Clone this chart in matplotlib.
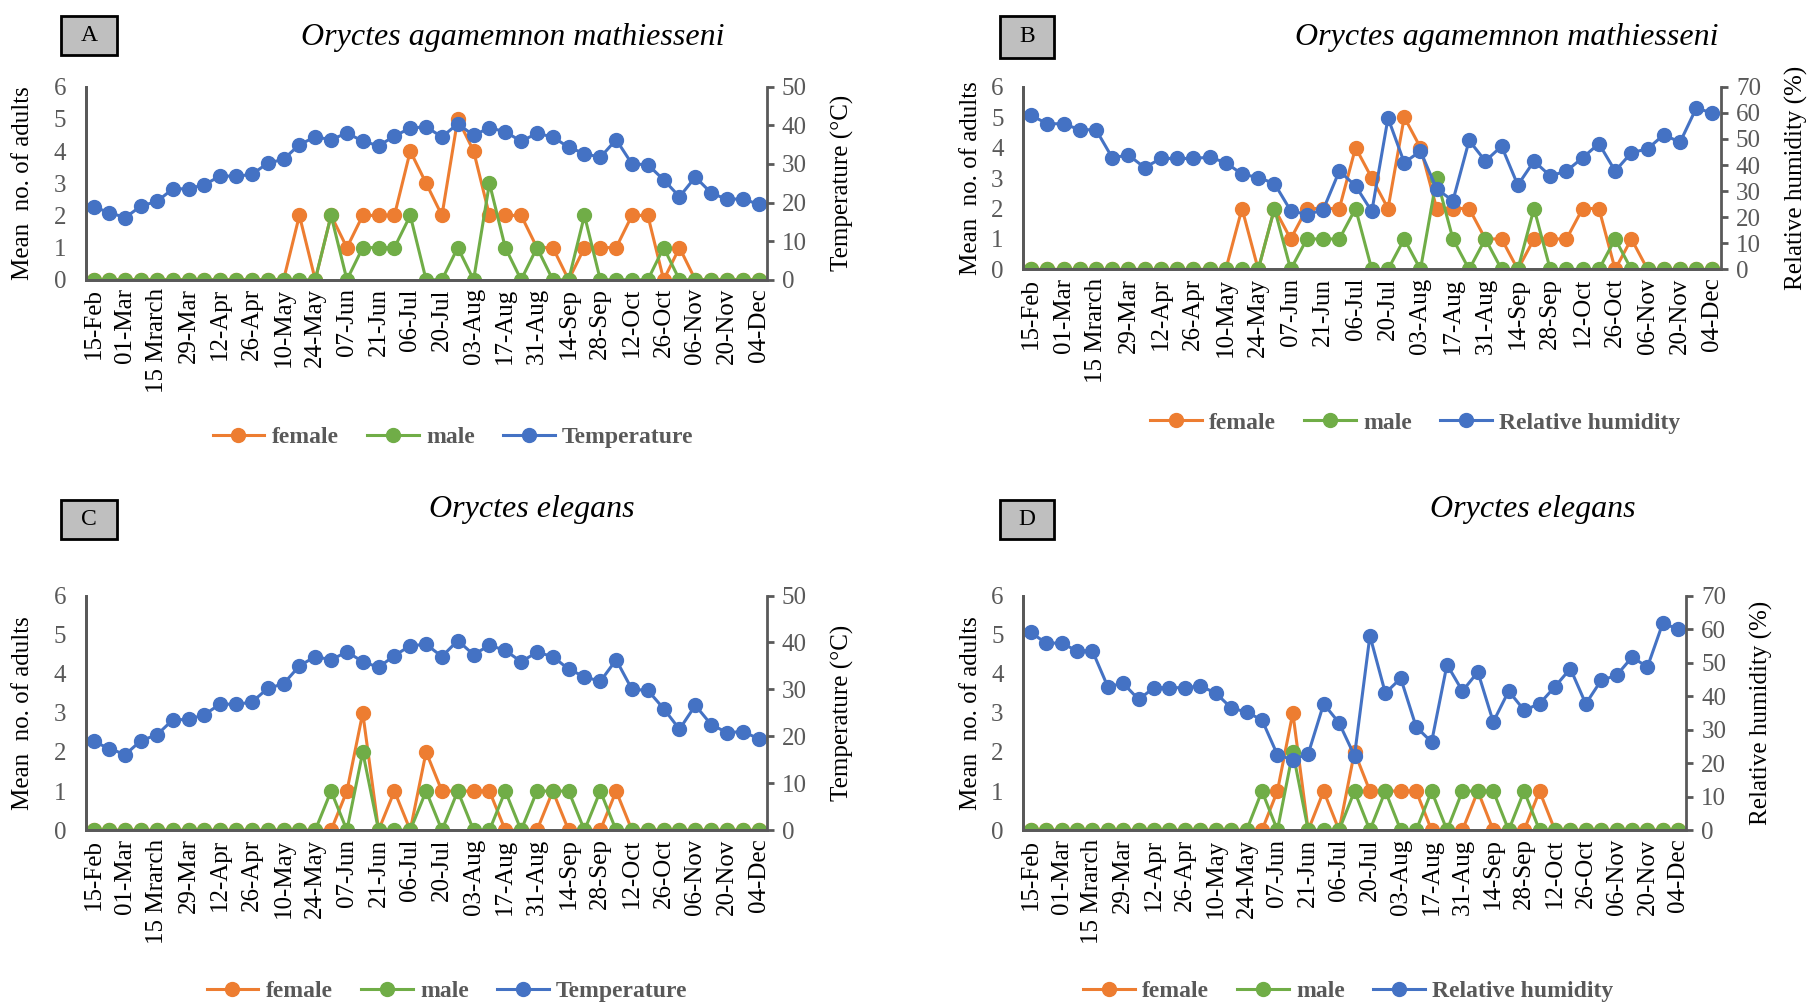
import numpy as np
import matplotlib
matplotlib.use("Agg")
import matplotlib.pyplot as plt
from matplotlib.patches import Rectangle

plt.rcParams['font.family'] = ['Liberation Serif', 'DejaVu Serif']

# sampling dates (every second one is labelled)
date_labels = ['15-Feb', '01-Mar', '15 Mrarch', '29-Mar', '12-Apr', '26-Apr', '10-May',
               '24-May', '07-Jun', '21-Jun', '06-Jul', '20-Jul', '03-Aug', '17-Aug',
               '31-Aug', '14-Sep', '28-Sep', '12-Oct', '26-Oct', '06-Nov', '20-Nov', '04-Dec']

# Oryctes agamemnon mathiesseni
female_oam = [0, 0, 0, 0, 0, 0, 0, 0, 0, 0, 0, 0, 0, 2, 0, 2, 1, 2, 2, 2, 4, 3,
              2, 5, 4, 2, 2, 2, 1, 1, 0, 1, 1, 1, 2, 2, 0, 1, 0, 0, 0, 0, 0]
male_oam = [0, 0, 0, 0, 0, 0, 0, 0, 0, 0, 0, 0, 0, 0, 0, 2, 0, 1, 1, 1, 2, 0,
            0, 1, 0, 3, 1, 0, 1, 0, 0, 2, 0, 0, 0, 0, 1, 0, 0, 0, 0, 0, 0]

# Oryctes elegans
female_oe = [0, 0, 0, 0, 0, 0, 0, 0, 0, 0, 0, 0, 0, 0, 0, 0, 1, 3, 0, 1, 0, 2,
             1, 1, 1, 1, 0, 0, 0, 1, 0, 0, 0, 1, 0, 0, 0, 0, 0, 0, 0, 0, 0]
male_oe = [0, 0, 0, 0, 0, 0, 0, 0, 0, 0, 0, 0, 0, 0, 0, 1, 0, 2, 0, 0, 0, 1,
           0, 1, 0, 0, 1, 0, 1, 1, 1, 0, 1, 0, 0, 0, 0, 0, 0, 0, 0, 0, 0]

# weather records
temperature = [18.9, 17.4, 16.1, 19.1, 20.3, 23.5, 23.6, 24.6, 26.9, 26.8, 27.3, 30.2,
               31.2, 35.0, 37.0, 36.3, 38.0, 35.9, 34.7, 37.2, 39.3, 39.6, 37.0, 40.4,
               37.4, 39.4, 38.3, 35.9, 37.9, 37.0, 34.3, 32.7, 31.7, 36.3, 30.0, 29.8,
               25.9, 21.5, 26.6, 22.5, 20.8, 21.0, 19.5]
humidity = [59.0, 55.8, 55.8, 53.5, 53.5, 42.8, 43.8, 39.0, 42.5, 42.5, 42.5, 43.0,
            40.9, 36.5, 35.2, 32.9, 22.5, 21.0, 22.8, 37.7, 32.0, 22.2, 58.0, 40.9,
            45.3, 30.8, 26.3, 49.4, 41.5, 47.2, 32.3, 41.5, 35.8, 37.7, 42.8, 48.2,
            37.7, 44.7, 46.2, 51.6, 48.7, 61.8, 59.9]

ORANGE = '#ED7D31'
GREEN = '#70AD47'
BLUE = '#4472C4'
GREY = '#595959'

W, H = 1813, 1002
fig = plt.figure(figsize=(W / 100, H / 100), dpi=100)


def rect(l, t, r, b):
    return [l / W, 1 - b / H, (r - l) / W, (b - t) / H]


def panel(box, letter, letter_box, title, title_xy, female, male, weather, weather_name,
          wlim, wlabel, ylab_x, wlab_x, leg_xy):
    x = np.arange(len(female))
    ax = fig.add_axes(rect(*box))
    ax2 = ax.twinx()
    kw = dict(lw=2.2, marker='o', ms=10)
    l1, = ax.plot(x, female, color=ORANGE, label='female', **kw)
    l2, = ax.plot(x, male, color=GREEN, label='male', **kw)
    l3, = ax2.plot(x, weather, color=BLUE, label=weather_name, **kw)

    ax.set_xlim(-0.5, len(x) - 0.5)
    ax.set_ylim(0, 6)
    ax.set_yticks(range(7))
    ax2.set_ylim(0, wlim)
    ax2.set_yticks(range(0, wlim + 1, 10))
    ax.set_xticks(x[::2])
    ax.set_xticklabels(date_labels, rotation=90, fontsize=18, color='black')
    ax.tick_params(axis='x', length=0, pad=6)
    ax.tick_params(axis='y', length=0, pad=14, labelsize=18, labelcolor=GREY)
    ax2.tick_params(axis='y', length=5, width=2, color=GREY, pad=6,
                    labelsize=18, labelcolor=GREY)
    for a in (ax, ax2):
        a.spines['top'].set_visible(False)
        for s in ('left', 'right', 'bottom'):
            a.spines[s].set_color(GREY)
            a.spines[s].set_linewidth(2)
    ax.spines['right'].set_visible(False)

    yc = H - (box[1] + box[3]) / 2
    fig.text(ylab_x / W, yc / H, 'Mean  no. of adults', rotation=90, fontsize=18,
             ha='center', va='center')
    fig.text(wlab_x / W, yc / H, wlabel, rotation=90, fontsize=18,
             ha='center', va='center')

    bl, bt, br, bb = letter_box
    fig.patches.append(Rectangle((bl / W, 1 - bb / H), (br - bl) / W, (bb - bt) / H,
                                 transform=fig.transFigure, facecolor='#BFBFBF',
                                 edgecolor='black', lw=2))
    fig.text((bl + br) / 2 / W, 1 - (bt + bb) / 2 / H, letter, fontsize=17,
             ha='center', va='center')
    fig.text(title_xy[0] / W, 1 - title_xy[1] / H, title, fontsize=23,
             style='italic', ha='center', va='center')

    leg = fig.legend(handles=[l1, l2, l3], loc='center', ncol=3, frameon=False,
                     bbox_to_anchor=(leg_xy[0] / W, 1 - leg_xy[1] / H),
                     prop={'weight': 'bold', 'size': 17}, handlelength=2.2,
                     handletextpad=0.3, columnspacing=1.2, labelcolor=GREY)
    return ax


panel((85.6, 86.7, 766.6, 279.8), 'A', (61, 16, 117, 55),
      'Oryctes agamemnon mathiesseni', (513, 38), female_oam, male_oam,
      temperature, 'Temperature', 50, 'Temperature (\u00b0C)', 23, 842, (453, 437))
panel((1023, 86.7, 1720.6, 269.4), 'B', (1000, 16, 1054, 58),
      'Oryctes agamemnon mathiesseni', (1507, 38), female_oam, male_oam,
      humidity, 'Relative humidity', 70, 'Relative humidity (%)', 971, 1796, (1415, 423))
panel((85.6, 595.5, 766.6, 830.2), 'C', (61, 500, 117, 539),
      'Oryctes elegans', (532, 509), female_oe, male_oe,
      temperature, 'Temperature', 50, 'Temperature (\u00b0C)', 23, 842, (447, 991))
panel((1023, 595.5, 1686, 830.2), 'D', (1000, 500, 1054, 539),
      'Oryctes elegans', (1533, 509), female_oe, male_oe,
      humidity, 'Relative humidity', 70, 'Relative humidity (%)', 971, 1761, (1348, 991))

fig.savefig('out.png', dpi=100)
